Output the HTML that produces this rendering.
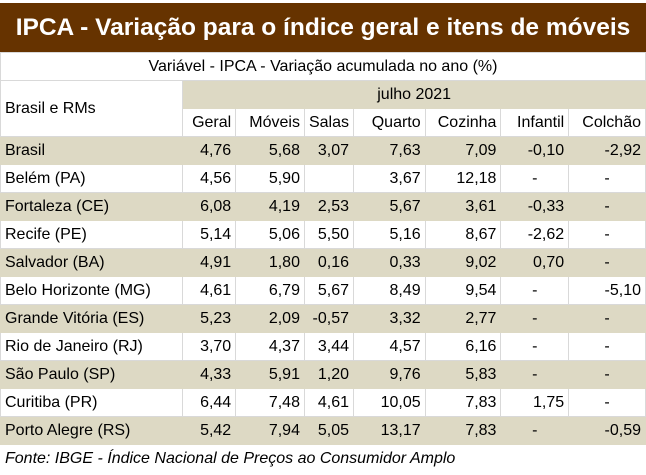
<!DOCTYPE html>
<html><head><meta charset="utf-8"><style>
body{margin:0;width:646px;height:475px;overflow:hidden;background:#fff;font-family:"Liberation Sans",sans-serif;}
#title{position:absolute;left:0;top:3px;width:646px;height:49px;background:#663300;color:#fff;font-weight:bold;font-size:24.5px;line-height:49px;text-align:center;}
table{position:absolute;left:0;top:52px;border-collapse:collapse;table-layout:fixed;font-size:16px;color:#000;}
td{height:27px;padding:0 4px;border:1px solid #d9d9d9;white-space:nowrap;overflow:hidden;text-align:right;}
tr.b td{background:#ddd9c4;border-color:#ddd9c4;}
td.n{text-align:left;}
td.c{text-align:center;}
.hb{background:#ddd9c4;}
</style></head><body>
<div id="title">IPCA - Variação para o índice geral e itens de móveis</div>
<table>
<colgroup><col style="width:183px"><col style="width:53px"><col style="width:69px"><col style="width:48px"><col style="width:72px"><col style="width:76px"><col style="width:68px"><col style="width:77px"></colgroup>
<tr><td colspan="8" class="c">Variável - IPCA - Variação acumulada no ano (%)</td></tr>
<tr><td rowspan="2" class="n">Brasil e RMs</td><td colspan="7" class="c hb" style="border-color:#ddd9c4">julho 2021</td></tr>
<tr><td>Geral</td><td>Móveis</td><td>Salas</td><td>Quarto</td><td>Cozinha</td><td>Infantil</td><td>Colchão</td></tr>
<tr class="b"><td class="n">Brasil</td><td>4,76</td><td>5,68</td><td>3,07</td><td>7,63</td><td>7,09</td><td>-0,10</td><td>-2,92</td></tr>
<tr><td class="n">Belém (PA)</td><td>4,56</td><td>5,90</td><td></td><td>3,67</td><td>12,18</td><td class="c">-</td><td class="c">-</td></tr>
<tr class="b"><td class="n">Fortaleza (CE)</td><td>6,08</td><td>4,19</td><td>2,53</td><td>5,67</td><td>3,61</td><td>-0,33</td><td class="c">-</td></tr>
<tr><td class="n">Recife (PE)</td><td>5,14</td><td>5,06</td><td>5,50</td><td>5,16</td><td>8,67</td><td>-2,62</td><td class="c">-</td></tr>
<tr class="b"><td class="n">Salvador (BA)</td><td>4,91</td><td>1,80</td><td>0,16</td><td>0,33</td><td>9,02</td><td>0,70</td><td class="c">-</td></tr>
<tr><td class="n">Belo Horizonte (MG)</td><td>4,61</td><td>6,79</td><td>5,67</td><td>8,49</td><td>9,54</td><td class="c">-</td><td>-5,10</td></tr>
<tr class="b"><td class="n">Grande Vitória (ES)</td><td>5,23</td><td>2,09</td><td>-0,57</td><td>3,32</td><td>2,77</td><td class="c">-</td><td class="c">-</td></tr>
<tr><td class="n">Rio de Janeiro (RJ)</td><td>3,70</td><td>4,37</td><td>3,44</td><td>4,57</td><td>6,16</td><td class="c">-</td><td class="c">-</td></tr>
<tr class="b"><td class="n">São Paulo (SP)</td><td>4,33</td><td>5,91</td><td>1,20</td><td>9,76</td><td>5,83</td><td class="c">-</td><td class="c">-</td></tr>
<tr><td class="n">Curitiba (PR)</td><td>6,44</td><td>7,48</td><td>4,61</td><td>10,05</td><td>7,83</td><td>1,75</td><td class="c">-</td></tr>
<tr class="b"><td class="n">Porto Alegre (RS)</td><td>5,42</td><td>7,94</td><td>5,05</td><td>13,17</td><td>7,83</td><td class="c">-</td><td>-0,59</td></tr>
<tr><td colspan="8" class="n" style="font-style:italic;border-color:#fff">Fonte: IBGE - Índice Nacional de Preços ao Consumidor Amplo</td></tr>
</table>
</body></html>
